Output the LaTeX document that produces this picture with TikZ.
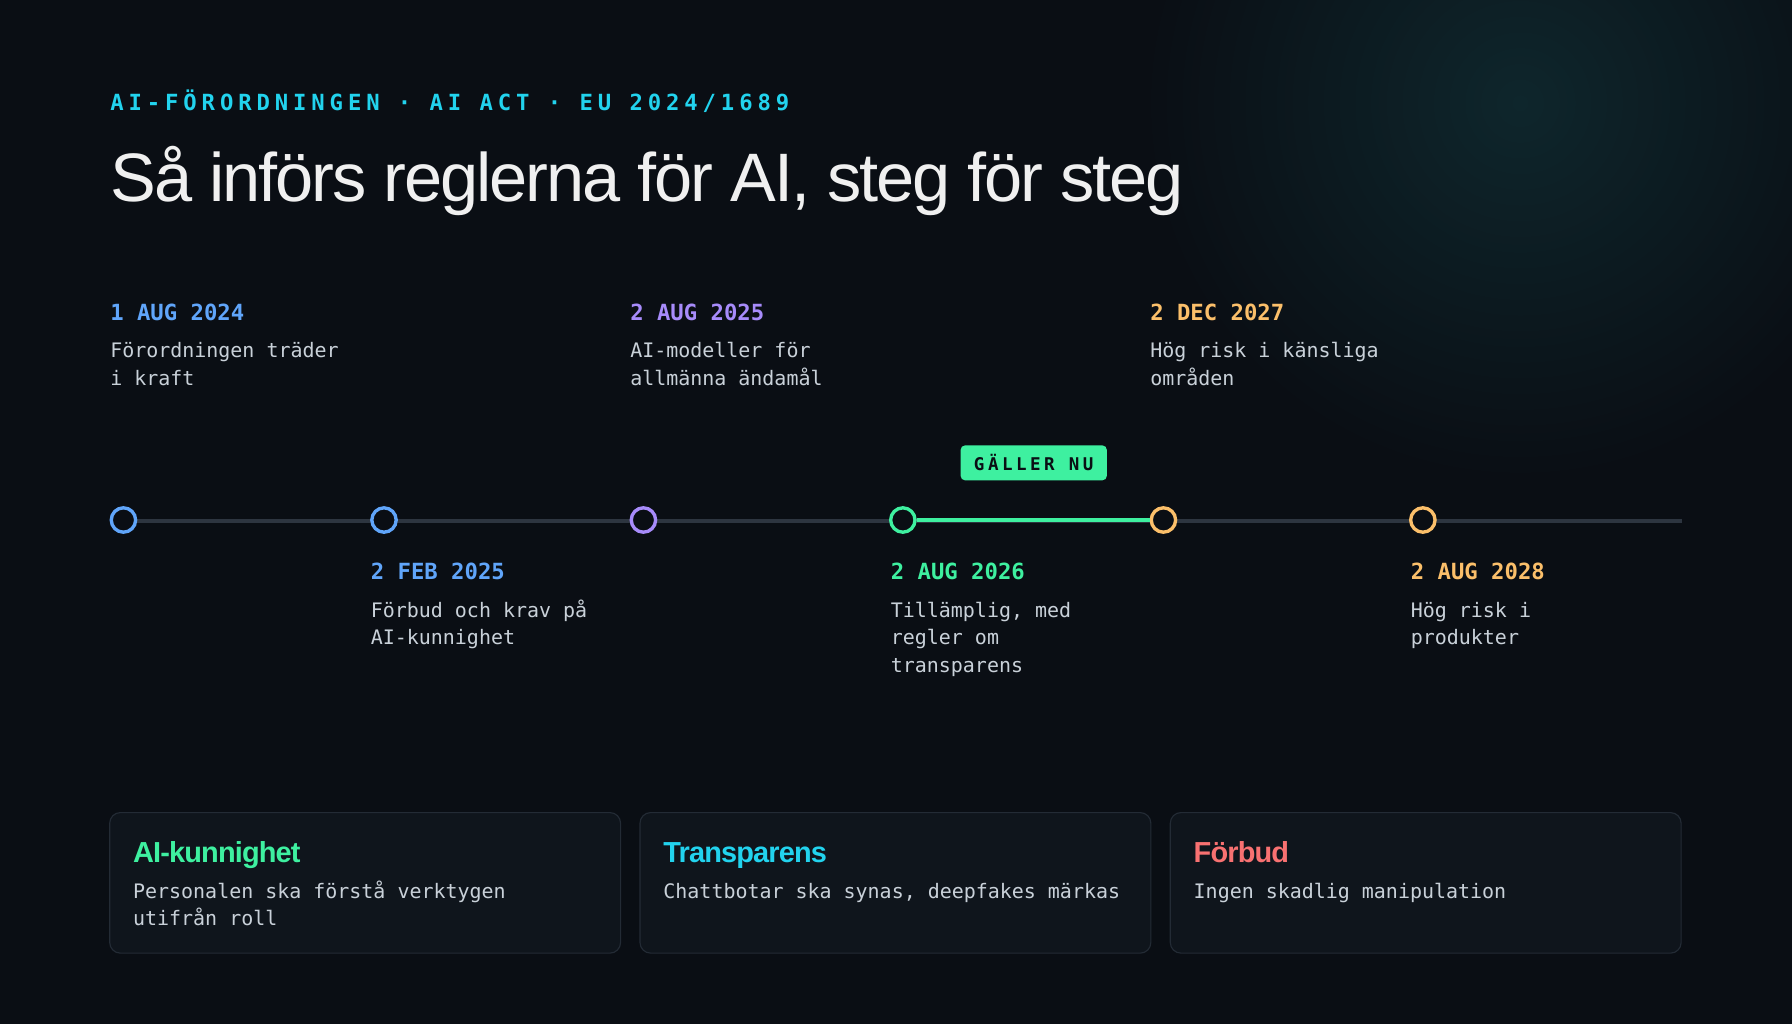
\documentclass[tikz,border=0pt]{standalone}
\usepackage{fontspec}
\setmainfont{Liberation Sans}
\setmonofont{DejaVu Sans Mono}
\definecolor{bg}{HTML}{0A0E14}
\definecolor{cblue}{HTML}{60A5FA}
\definecolor{cpurple}{HTML}{A78BFA}
\definecolor{cgreen}{HTML}{3EF0A0}
\definecolor{corange}{HTML}{FBBF6A}
\definecolor{ccyan}{HTML}{22D3EE}
\definecolor{cred}{HTML}{F87171}
\definecolor{ctext}{HTML}{C9D1D9}
\definecolor{cline}{HTML}{2D3540}
\definecolor{cardfill}{HTML}{0F151C}
\definecolor{cardline}{HTML}{232B35}
\tikzset{every picture/.style={line width=0.75pt}}
\tikzset{
  dot/.style={circle,draw=#1,line width=2.2pt,fill=bg,minimum size=16pt,inner sep=0pt},
  date/.style={anchor=base west,inner sep=0pt,text=#1,font=\fontsize{14.6}{17}\ttfamily\bfseries},
  body/.style={anchor=base west,inner sep=0pt,text=ctext,align=left,font=\fontsize{13.1}{18}\ttfamily},
  card/.style={draw=cardline,fill=cardfill,rounded corners=7pt},
  cardtitle/.style={anchor=base west,inner sep=0pt,text=#1,font=\fontsize{19}{22}\selectfont\bfseries\addfontfeature{LetterSpace=-3}},
}
\begin{document}
\begin{tikzpicture}[x=0.75pt,y=0.75pt,yscale=-1,xscale=1]
	\fill[bg] (0,0) rectangle (1568,896);
	\useasboundingbox (0,0) rectangle (1568,896);
	\begin{scope}
	\clip (0,0) rectangle (1568,896);
	\shade[inner color={rgb,255:red,14;green,38;blue,44},outer color=bg] (1330,90) circle (330);
	\end{scope}
	
	% heading
	\node[anchor=base west,inner sep=0pt,text=ccyan,font=\fontsize{14.6}{17}\ttfamily\bfseries\addfontfeature{LetterSpace=22}] (kicker) at (96,97) {AI-FÖRORDNINGEN · AI ACT · EU 2024/1689};
	\node[anchor=base west,inner sep=0pt,text=white!94!black,font=\fontsize{45}{50}\selectfont\addfontfeature{LetterSpace=-3}] (title) at (96,176) {Så införs reglerna för AI, steg för steg};
	
	% timeline
	\coordinate (start) at (108,456);
	\coordinate (end) at (1472,456);
	\draw[cline,line width=2.2pt] (start) -- (end);
	\node[dot=cblue] (d1) at (108,455) {};
	\node[dot=cblue] (d2) at (336,455) {};
	\node[dot=cpurple] (d3) at (563,455) {};
	\node[dot=cgreen] (d4) at (790,455) {};
	\node[dot=corange] (d5) at (1018,455) {};
	\node[dot=corange] (d6) at (1245,455) {};
	\draw[cgreen,line width=2.2pt] (d4) -- (d5);
	
	% badge
	\node[fill=cgreen,rounded corners=3pt,minimum width=96pt,minimum height=23pt,inner sep=0pt,text=bg,font=\fontsize{11.5}{13}\ttfamily\bfseries\addfontfeature{LetterSpace=20}] (now) at (904.5,405) {GÄLLER NU};
	
	% labels above (body baseline = last line)
	\node[date=cblue] (t1) at (96,280) {1 AUG 2024};
	\node[body] (b1) at (96,337) {Förordningen träder\\i kraft};
	\node[date=cpurple] (t3) at (551,280) {2 AUG 2025};
	\node[body] (b3) at (551,337) {AI-modeller för\\allmänna ändamål};
	\node[date=corange] (t5) at (1006,280) {2 DEC 2027};
	\node[body] (b5) at (1006,337) {Hög risk i känsliga\\områden};
	
	% labels below
	\node[date=cblue] (t2) at (324,507) {2 FEB 2025};
	\node[body] (b2) at (324,564) {Förbud och krav på\\AI-kunnighet};
	\node[date=cgreen] (t4) at (779,507) {2 AUG 2026};
	\node[body] (b4) at (779,588) {Tillämplig, med\\regler om\\transparens};
	\node[date=corange] (t6) at (1234,507) {2 AUG 2028};
	\node[body] (b6) at (1234,564) {Hög risk i\\produkter};
	
	% cards
	\draw[card] (96,711) rectangle (543,834);
	\draw[card] (560,711) rectangle (1007,834);
	\draw[card] (1024,711) rectangle (1471,834);
	\node[cardtitle=cgreen] (k1) at (116,755) {AI-kunnighet};
	\node[body] (k1b) at (116,810) {Personalen ska förstå verktygen\\utifrån roll};
	\node[cardtitle=ccyan] (k2) at (580,755) {Transparens};
	\node[body] (k2b) at (580,786) {Chattbotar ska synas, deepfakes märkas};
	\node[cardtitle=cred] (k3) at (1044,755) {Förbud};
	\node[body] (k3b) at (1044,786) {Ingen skadlig manipulation};
\end{tikzpicture}
\end{document}
